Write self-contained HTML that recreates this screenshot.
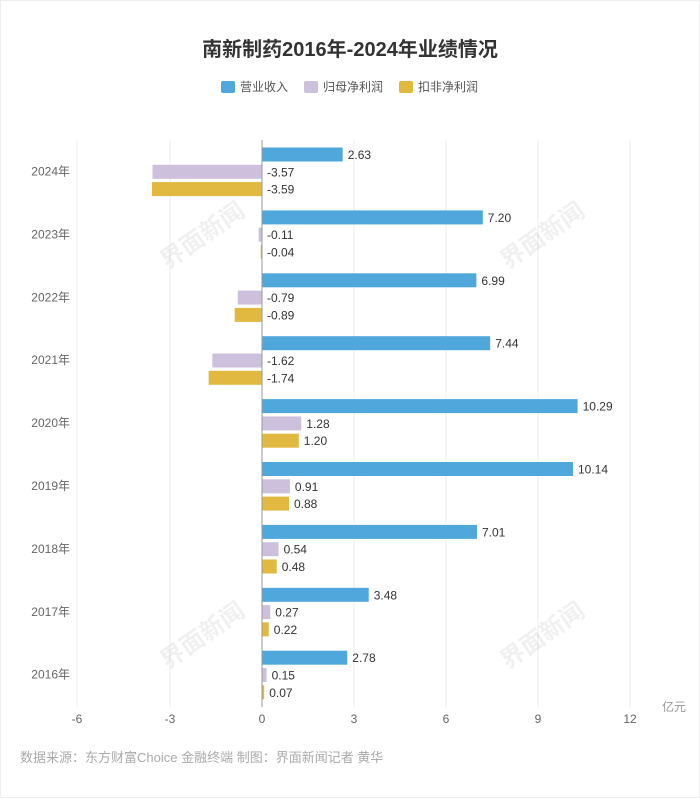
<!DOCTYPE html>
<html><head><meta charset="utf-8"><style>
body{margin:0;background:#fff;}
svg text{font-family:"Liberation Sans","Noto Sans CJK SC",sans-serif;}
</style></head><body>
<svg width="700" height="799" xmlns="http://www.w3.org/2000/svg">
<rect x="0.5" y="0.5" width="699" height="797" fill="#fff" stroke="#eee"/>
<text x="350" y="56" text-anchor="middle" font-size="20" font-weight="bold" fill="#333">南新制药2016年-2024年业绩情况</text>
<g font-size="12" fill="#555">
<rect x="221" y="81" width="14" height="12" rx="2" fill="#4fa7dc"/><text x="240" y="91">营业收入</text>
<rect x="304" y="81" width="14" height="12" rx="2" fill="#cdc0dc"/><text x="323" y="91">归母净利润</text>
<rect x="399" y="81" width="14" height="12" rx="2" fill="#e2b940"/><text x="418" y="91">扣非净利润</text>
</g>
<g stroke="#e8ecf4" stroke-width="1">
<line x1="77" y1="140" x2="77" y2="707"/><line x1="170" y1="140" x2="170" y2="707"/>
<line x1="354" y1="140" x2="354" y2="707"/><line x1="446" y1="140" x2="446" y2="707"/>
<line x1="538" y1="140" x2="538" y2="707"/><line x1="630" y1="140" x2="630" y2="707"/>
</g>
<g font-size="24" font-weight="bold" fill="#000" opacity="0.06">
<text x="130" y="250" transform="rotate(-35 180 200)">界面新闻</text>
<text x="470" y="250" transform="rotate(-35 520 200)">界面新闻</text>
<text x="130" y="650" transform="rotate(-35 180 600)">界面新闻</text>
<text x="470" y="650" transform="rotate(-35 520 600)">界面新闻</text>
</g>
<g font-size="12" fill="#666" text-anchor="end">
<text x="70" y="175.5">2024年</text><text x="70" y="238.4">2023年</text><text x="70" y="301.3">2022年</text>
<text x="70" y="364.2">2021年</text><text x="70" y="427.1">2020年</text><text x="70" y="490">2019年</text>
<text x="70" y="552.9">2018年</text><text x="70" y="615.8">2017年</text><text x="70" y="678.7">2016年</text>
</g>
<g>
<rect x="262" y="147.5" width="80.66" height="14" fill="#4fa7dc"/>
<rect x="152.51" y="164.8" width="109.49" height="14" fill="#cdc0dc"/>
<rect x="151.9" y="182.1" width="110.1" height="14" fill="#e2b940"/>
<rect x="262" y="210.4" width="220.82" height="14" fill="#4fa7dc"/>
<rect x="258.63" y="227.7" width="3.37" height="14" fill="#cdc0dc"/>
<rect x="260.77" y="245" width="1.23" height="14" fill="#e2b940"/>
<rect x="262" y="273.3" width="214.38" height="14" fill="#4fa7dc"/>
<rect x="237.77" y="290.6" width="24.23" height="14" fill="#cdc0dc"/>
<rect x="234.7" y="307.9" width="27.3" height="14" fill="#e2b940"/>
<rect x="262" y="336.2" width="228.18" height="14" fill="#4fa7dc"/>
<rect x="212.31" y="353.5" width="49.69" height="14" fill="#cdc0dc"/>
<rect x="208.63" y="370.8" width="53.37" height="14" fill="#e2b940"/>
<rect x="262" y="399.1" width="315.59" height="14" fill="#4fa7dc"/>
<rect x="262" y="416.4" width="39.26" height="14" fill="#cdc0dc"/>
<rect x="262" y="433.7" width="36.8" height="14" fill="#e2b940"/>
<rect x="262" y="462" width="311" height="14" fill="#4fa7dc"/>
<rect x="262" y="479.3" width="27.91" height="14" fill="#cdc0dc"/>
<rect x="262" y="496.6" width="26.99" height="14" fill="#e2b940"/>
<rect x="262" y="524.9" width="215" height="14" fill="#4fa7dc"/>
<rect x="262" y="542.2" width="16.56" height="14" fill="#cdc0dc"/>
<rect x="262" y="559.5" width="14.72" height="14" fill="#e2b940"/>
<rect x="262" y="587.8" width="106.73" height="14" fill="#4fa7dc"/>
<rect x="262" y="605.1" width="8.28" height="14" fill="#cdc0dc"/>
<rect x="262" y="622.4" width="6.75" height="14" fill="#e2b940"/>
<rect x="262" y="650.7" width="85.26" height="14" fill="#4fa7dc"/>
<rect x="262" y="668" width="4.6" height="14" fill="#cdc0dc"/>
<rect x="262" y="685.3" width="2.15" height="14" fill="#e2b940"/>
</g>
<g font-size="12" fill="#333">
<text x="347.7" y="159">2.63</text><text x="267" y="176.3">-3.57</text><text x="267" y="193.6">-3.59</text>
<text x="487.8" y="221.9">7.20</text><text x="267" y="239.2">-0.11</text><text x="267" y="256.5">-0.04</text>
<text x="481.4" y="284.8">6.99</text><text x="267" y="302.1">-0.79</text><text x="267" y="319.4">-0.89</text>
<text x="495.2" y="347.7">7.44</text><text x="267" y="365">-1.62</text><text x="267" y="382.3">-1.74</text>
<text x="582.6" y="410.6">10.29</text><text x="306.3" y="427.9">1.28</text><text x="303.8" y="445.2">1.20</text>
<text x="578" y="473.5">10.14</text><text x="294.9" y="490.8">0.91</text><text x="294" y="508.1">0.88</text>
<text x="482" y="536.4">7.01</text><text x="283.6" y="553.7">0.54</text><text x="281.7" y="571">0.48</text>
<text x="373.7" y="599.3">3.48</text><text x="275.3" y="616.6">0.27</text><text x="273.8" y="633.9">0.22</text>
<text x="352.3" y="662.2">2.78</text><text x="271.6" y="679.5">0.15</text><text x="269.2" y="696.8">0.07</text>
</g>
<line x1="262" y1="140" x2="262" y2="707" stroke="#999"/>
<g font-size="12" fill="#666" text-anchor="middle">
<text x="77" y="723">-6</text><text x="170" y="723">-3</text><text x="262" y="723">0</text>
<text x="354" y="723">3</text><text x="446" y="723">6</text><text x="538" y="723">9</text><text x="630" y="723">12</text>
</g>
<text x="662" y="711" font-size="12" fill="#999">亿元</text>
<text x="20" y="762" font-size="13" fill="#aaa">数据来源：东方财富Choice 金融终端 制图：界面新闻记者 黄华</text>
</svg>
</body></html>
